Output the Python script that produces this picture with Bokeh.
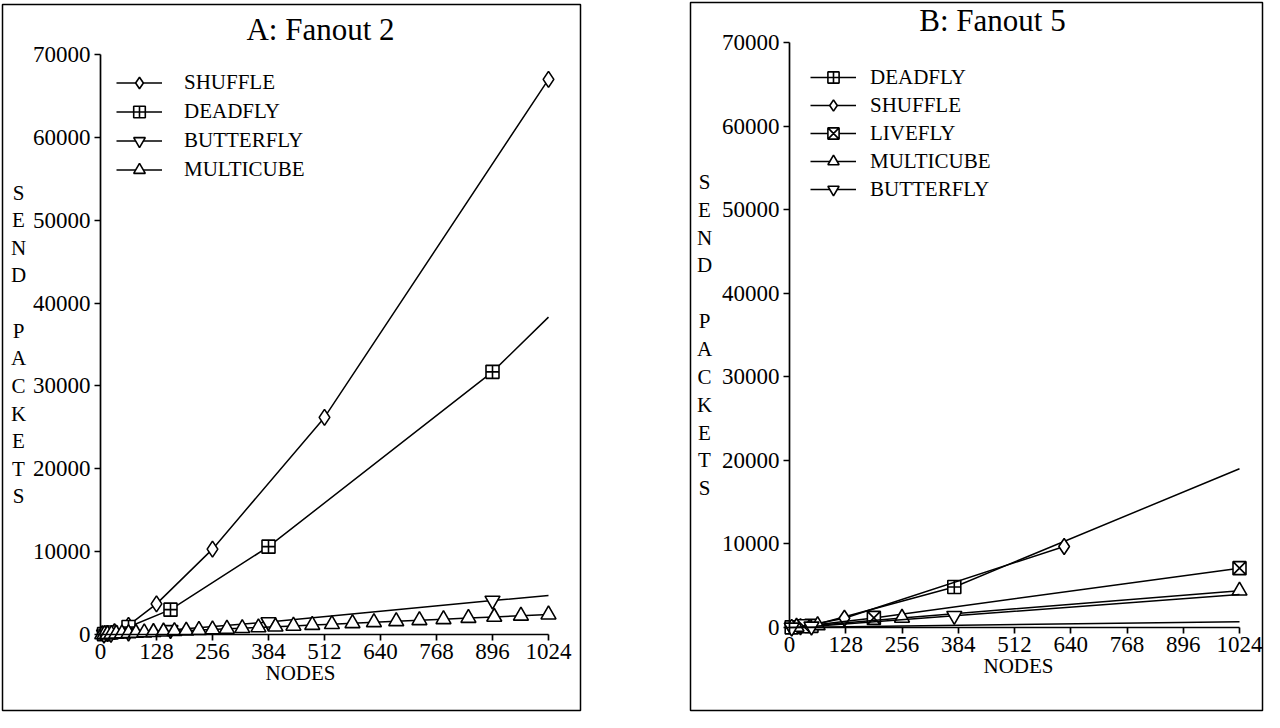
from bokeh.plotting import figure
from bokeh.models import (Label, Legend, LegendItem, FixedTicker, Range1d,
                          BasicTickFormatter, Spacer)
from bokeh.layouts import row, column
from bokeh.embed import file_html
from bokeh.resources import INLINE

# ---------------- data ----------------
NODE_TICKS = [0, 128, 256, 384, 512, 640, 768, 896, 1024]
PACKET_TICKS = [0, 10000, 20000, 30000, 40000, 50000, 60000, 70000]
Y_LABEL_LETTERS = ["S", "E", "N", "D", "", "P", "A", "C", "K", "E", "T", "S"]

# Panel A: fanout 2
A_SHUFFLE_X = [8, 16, 32, 64, 128, 256, 512, 1024]
A_SHUFFLE_Y = [30, 100, 350, 1100, 3700, 10300, 26200, 67000]
A_SHUFFLE_M = [True] * 8

A_DEADFLY_X = [8, 24, 64, 160, 384, 896, 1024]
A_DEADFLY_Y = [40, 250, 900, 3000, 10600, 31700, 38300]
A_DEADFLY_M = [True, True, True, True, True, True, False]

A_BUTTERFLY_X = [8, 24, 64, 160, 384, 896, 1024]
A_BUTTERFLY_Y = [20, 100, 250, 550, 1500, 4100, 4700]
A_BUTTERFLY_M = [True, True, True, True, True, True, False]

A_MULTICUBE_X = [4, 9, 16, 25, 36, 49, 64, 81, 100, 121, 144, 169, 196, 225, 256,
                 289, 324, 361, 400, 441, 484, 529, 576, 625, 676, 729, 784, 841,
                 900, 961, 1024]
A_MULTICUBE_Y = [10, 25, 40, 60, 90, 120, 150, 190, 240, 280, 340, 400, 460, 530, 600,
                 680, 760, 850, 940, 1040, 1140, 1240, 1350, 1470, 1590, 1720, 1840,
                 1980, 2120, 2260, 2400]
A_MULTICUBE_M = [True] * 31

# Panel B: fanout 5
B_DEADFLY_X = [5, 50, 375, 1024]
B_DEADFLY_Y = [20, 200, 4850, 19000]
B_DEADFLY_M = [True, True, True, False]

B_SHUFFLE_X = [5, 25, 125, 625]
B_SHUFFLE_Y = [10, 90, 1100, 9700]
B_SHUFFLE_M = [True] * 4

B_LIVEFLY_X = [32, 192, 1024]
B_LIVEFLY_Y = [150, 1150, 7100]
B_LIVEFLY_M = [True] * 3

B_MULTICUBE_X = [16, 64, 256, 1024]
B_MULTICUBE_Y = [70, 260, 1150, 4400]
B_MULTICUBE_M = [True] * 4

B_BUTTERFLY_X = [5, 50, 375, 1024]
B_BUTTERFLY_Y = [10, 120, 1400, 3950]
B_BUTTERFLY_M = [True, True, True, False]

B_EXTRA_X = [0, 1024]
B_EXTRA_Y = [0, 700]

SERIF = "Liberation Serif"
MB = 2          # border between canvas edge and frame (outline = panel box)
X_MAX = NODE_TICKS[-1]
Y_MAX = PACKET_TICKS[-1]


class Geo:
    """pixel geometry of one panel on the page"""
    def __init__(self, left, top, width, height, x0, x1, y0, y1):
        self.left, self.top, self.width, self.height = left, top, width, height
        self.x0, self.x1, self.y0, self.y1 = x0, x1, y0, y1
        self.kx = (x1 - x0) / X_MAX
        self.ky = (y0 - y1) / Y_MAX
        self.fl, self.fr = left + MB, left + width - MB
        self.ft, self.fb = top + MB, top + height - MB

    def dx(self, px):
        return (px - self.x0) / self.kx

    def dy(self, py):
        return (self.y0 - py) / self.ky

    def xr(self):
        return Range1d(self.dx(self.fl), self.dx(self.fr))

    def yr(self):
        return Range1d(self.dy(self.fb), self.dy(self.ft))


def series(p, xs, ys, mask, marker, size):
    ln = p.line(xs, ys, line_color="black", line_width=1.5)
    mx = [x for x, m in zip(xs, mask) if m]
    my = [y for y, m in zip(ys, mask) if m]
    sc = p.scatter(mx, my, marker=marker, size=size, fill_color="white",
                   line_color="black", line_width=1.6)
    return [ln, sc]


def text(p, g, px, py, s, size, ydata=None):
    p.add_layout(Label(x=g.dx(px), y=g.dy(py) if ydata is None else ydata,
                       text=s, text_font=SERIF, text_font_size=size,
                       text_color="black", text_align="center",
                       text_baseline="middle"))


def panel(g, title, title_pos, nodes_pos, letters_x):
    p = figure(width=g.width, height=g.height, x_range=g.xr(), y_range=g.yr(),
               output_backend="svg", toolbar_location=None, min_border=MB)
    p.grid.visible = False
    p.outline_line_color = "black"
    p.outline_line_width = 1.5
    p.background_fill_color = "white"
    p.border_fill_color = "white"
    for ax in (p.xaxis[0], p.yaxis[0]):
        ax.fixed_location = 0
        ax.axis_line_width = 1.7
        ax.major_tick_line_width = 1.7
        ax.major_tick_out = 6
        ax.major_tick_in = 0
        ax.minor_tick_out = 0
        ax.minor_tick_in = 0
        ax.major_label_text_font = SERIF
        ax.major_label_text_font_size = "23px"
        ax.major_label_text_color = "black"
        ax.axis_line_color = "black"
        ax.major_tick_line_color = "black"
    p.xaxis.ticker = FixedTicker(ticks=NODE_TICKS)
    p.xaxis.bounds = (0, X_MAX)
    p.xaxis.major_label_standoff = 3
    p.yaxis.ticker = FixedTicker(ticks=PACKET_TICKS)
    p.yaxis.bounds = (0, Y_MAX)
    p.yaxis.formatter = BasicTickFormatter(use_scientific=False)
    p.yaxis.major_label_standoff = 4

    text(p, g, title_pos[0], title_pos[1], title, "31px")
    text(p, g, nodes_pos[0], nodes_pos[1], "NODES", "21px")
    step = (PACKET_TICKS[2] - PACKET_TICKS[1]) / 3.0
    for i, ch in enumerate(Y_LABEL_LETTERS):
        if ch:
            text(p, g, letters_x, 0, ch, "21px",
                 ydata=PACKET_TICKS[5] + step - i * step)
    return p


def add_legend(p, g, items, glyph_left, first_row, row_h, standoff):
    height = row_h * len(items)
    top = first_row - row_h / 2.0
    leg = Legend(items=[LegendItem(label=l, renderers=r) for l, r in items],
                 location=(glyph_left - g.fl, g.fb - (top + height)),
                 margin=0, padding=0, border_line_color=None,
                 background_fill_alpha=0,
                 glyph_width=46, glyph_height=row_h, label_height=row_h,
                 spacing=0, label_standoff=standoff,
                 label_text_font=SERIF, label_text_font_size="21px",
                 label_text_color="black", label_text_baseline="middle")
    p.add_layout(leg)


# ---------- panel A ----------
ga = Geo(left=8, top=10, width=582, height=710, x0=108, x1=556, y0=642, y1=62)
pa = panel(ga, "A: Fanout 2", (328, 37), (308, 680), 26)
ra = [
    ("SHUFFLE", series(pa, A_SHUFFLE_X, A_SHUFFLE_Y, A_SHUFFLE_M, "diamond", 16)),
    ("DEADFLY", series(pa, A_DEADFLY_X, A_DEADFLY_Y, A_DEADFLY_M, "square_cross", 13)),
    ("BUTTERFLY", series(pa, A_BUTTERFLY_X, A_BUTTERFLY_Y, A_BUTTERFLY_M, "inverted_triangle", 15)),
    ("MULTICUBE", series(pa, A_MULTICUBE_X, A_MULTICUBE_Y, A_MULTICUBE_M, "triangle", 15)),
]
add_legend(pa, ga, ra, 124, 90, 29, 22)

# ---------- panel B ----------
gb = Geo(left=696, top=8, width=576, height=712, x0=797, x1=1247, y0=635, y1=50)
pb = panel(gb, "B: Fanout 5", (1000, 28), (1026, 673), 712)
rb = [
    ("DEADFLY", series(pb, B_DEADFLY_X, B_DEADFLY_Y, B_DEADFLY_M, "square_cross", 13)),
    ("SHUFFLE", series(pb, B_SHUFFLE_X, B_SHUFFLE_Y, B_SHUFFLE_M, "diamond", 16)),
    ("LIVEFLY", series(pb, B_LIVEFLY_X, B_LIVEFLY_Y, B_LIVEFLY_M, "square_x", 13)),
    ("MULTICUBE", series(pb, B_MULTICUBE_X, B_MULTICUBE_Y, B_MULTICUBE_M, "triangle", 15)),
    ("BUTTERFLY", series(pb, B_BUTTERFLY_X, B_BUTTERFLY_Y, B_BUTTERFLY_M, "inverted_triangle", 15)),
]
pb.line(B_EXTRA_X, B_EXTRA_Y, line_color="black", line_width=1.5)
add_legend(pb, gb, rb, 818, 85, 28, 14)

layout = row(column(Spacer(height=2), pa), Spacer(width=106), pb)
open("out.html", "w").write(file_html(layout, INLINE))
